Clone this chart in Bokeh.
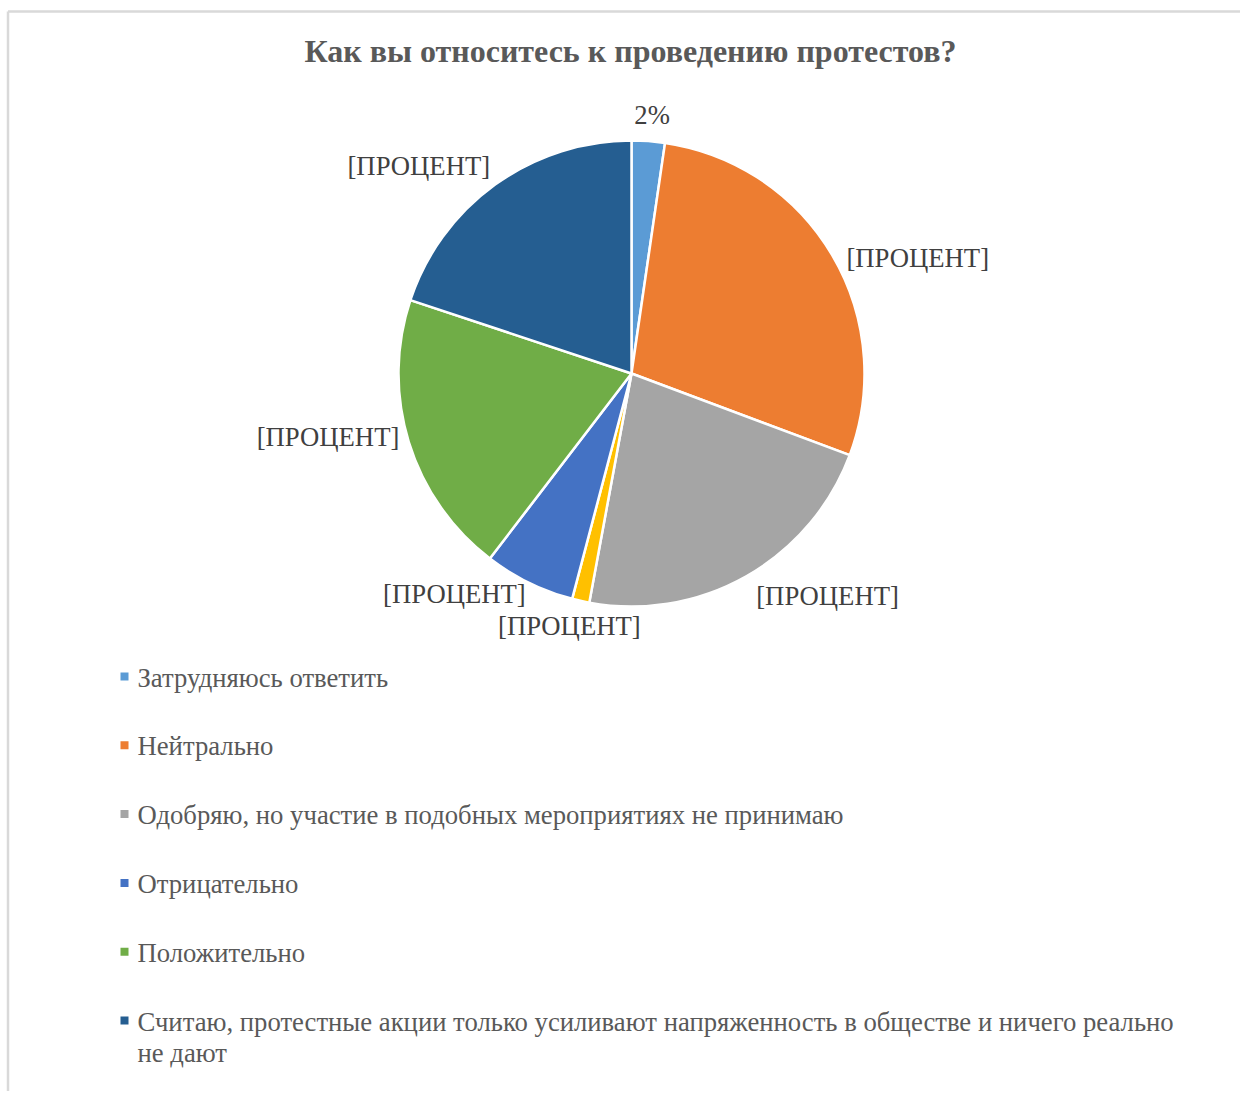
import numpy as np
from bokeh.plotting import figure
from bokeh.models import Range1d, ColumnDataSource
from bokeh.core.properties import value
from bokeh.embed import file_html
from bokeh.resources import INLINE

# ---------------- data ----------------
title = "Как вы относитесь к проведению протестов?"
categories = [
    "Затрудняюсь ответить",
    "Нейтрально",
    "Одобряю, но участие в подобных мероприятиях не принимаю",
    "",
    "Отрицательно",
    "Положительно",
    "Считаю, протестные акции только усиливают напряженность в обществе и ничего реально не дают",
]
shares = [2.3, 28.4, 22.2, 1.2, 6.3, 19.7, 19.9]
slice_labels = ["2%", "[ПРОЦЕНТ]", "[ПРОЦЕНТ]", "[ПРОЦЕНТ]", "[ПРОЦЕНТ]", "[ПРОЦЕНТ]", "[ПРОЦЕНТ]"]
colors = ["#5B9BD5", "#ED7D31", "#A5A5A5", "#FFC000", "#4472C4", "#70AD47", "#255E91"]
legend_index = [0, 1, 2, 4, 5, 6]
legend_wrap = {6: "Считаю, протестные акции только усиливают напряженность в обществе и ничего реально\nне дают"}

# ---------------- layout ----------------
W, H = 1240, 1091
def Y(sy):
    return 1099 - sy

SERIF = value("Liberation Serif")
CX, CY, R = 631, Y(373), 233

p = figure(width=W, height=H, x_range=Range1d(0, W), y_range=Range1d(1099 - H, 1099),
           output_backend="svg", toolbar_location=None, min_border=0)
p.axis.visible = False
p.grid.visible = False
p.outline_line_color = None
p.background_fill_color = "white"
p.border_fill_color = "white"

# chart frame (top and left edges visible)
p.segment(x0=[7.5, 7.5], y0=[Y(1099), Y(11)], x1=[7.5, 1248], y1=[Y(11), Y(11)],
          line_color="#D9D9D9", line_width=2.5)

# ---------------- pie ----------------
vals = np.array(shares, dtype=float)
frac = vals / vals.sum()
end = np.cumsum(frac) * 2 * np.pi
start = end - frac * 2 * np.pi
src = ColumnDataSource(dict(
    start=np.pi / 2 - start, end=np.pi / 2 - end, color=colors, cat=categories))
p.wedge(x=CX, y=CY, radius=R, start_angle="start", end_angle="end", direction="clock",
        fill_color="color", line_color="white", line_width=2.5, source=src)

# data labels (outside end, best-fit-like placement)
mid = (start + end) / 2
d = R + 12
LH = 28  # label box height
ux = np.sin(mid)
uy = np.cos(mid)          # upward component in data space
lx = CX + d * ux
ly = CY + d * uy
aligns = []
for k in range(len(mid)):
    if abs(ux[k]) < 0.3:
        aligns.append("center")
        lx[k] += ux[k] * 40
        ly[k] += uy[k] * LH / 2
    elif ux[k] > 0:
        aligns.append("left")
        lx[k] += 4
        ly[k] -= 9
    else:
        aligns.append("right")
        lx[k] += 2
        if abs(ux[k]) > 0.5:
            ly[k] += 9
lsrc = ColumnDataSource(dict(x=lx, y=ly, text=slice_labels, align=aligns))
p.text(x="x", y="y", text="text", text_align="align", text_baseline="middle", source=lsrc,
       text_font=SERIF, text_font_size="26.7px", text_color="#404040")

# title
p.text(x=[630], y=[Y(50)], text=[title], text_align="center", text_baseline="middle",
       text_font=SERIF, text_font_size="32px", text_font_style="bold", text_color="#595959")

# ---------------- legend ----------------
row0, step = 676, 68.8
leg_y = [Y(row0 + step * k) for k in range(len(legend_index))]
leg_text = [legend_wrap.get(i, categories[i]) for i in legend_index]
leg_col = [colors[i] for i in legend_index]
p.rect(x=[124] * len(leg_y), y=leg_y, width=8, height=8,
       fill_color=leg_col, line_color=None)
p.text(x=[137] * len(leg_y), y=[y + 14 for y in leg_y], text=leg_text, text_align="left",
       text_baseline="top", text_font=SERIF, text_font_size="26.7px", text_color="#595959",
       text_line_height=1.06)

open("out.html", "w").write(file_html(p, INLINE))
